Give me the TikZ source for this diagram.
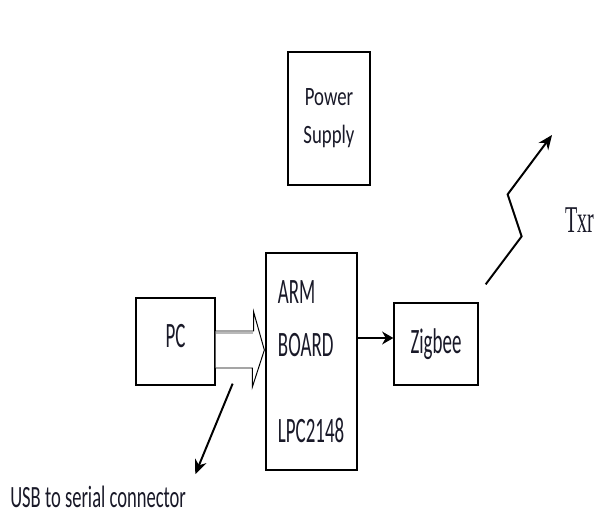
\documentclass[tikz,border=0pt]{standalone}
\usepackage{fontspec}
\usepackage{graphicx}
\usepackage{tikz}
\usetikzlibrary{arrows.meta,calc}
\setmainfont{Carlito}
\newfontfamily\txrfont{Liberation Serif}
\newcommand{\narrow}[2]{\scalebox{#1}[1]{#2}}
\definecolor{InkBlack}{RGB}{25,25,40}
\tikzset{
  blk/.style={draw=black, line width=0.9pt, fill=white, inner sep=0pt, align=center,
    text=InkBlack, font={\fontsize{25.4}{31}\selectfont}},
  psblk/.style={blk, font={\fontsize{18.8}{27}\selectfont}},
  fatarr/.style={draw=black, line width=0.7pt, fill=white, line join=miter},
  fatshade/.style={gray!55, line width=1.6pt},
  sigarr/.style={-{Stealth[length=0.36cm, width=0.3cm]}, line width=1.4pt, black},
  notelbl/.style={inner sep=0pt, text=InkBlack, font={\fontsize{22}{26}\selectfont}},
  txrlbl/.style={inner sep=0pt, text=InkBlack, font={\txrfont\fontsize{26.9}{30}\selectfont}},
}

\begin{document}
\begin{tikzpicture}[x=0.025cm, y=-0.025cm]
    \useasboundingbox (0,0) rectangle (598,513);
    \node[psblk, minimum width=2.05cm, minimum height=3.325cm] (power) at (329,118.5)
      {\narrow{0.71}{Power}\\\narrow{0.71}{Supply}};
    \node[blk, minimum width=1.975cm, minimum height=2.175cm, text depth=0.275cm] (PC) at (175.5,341.5)
      {\narrow{0.53}{PC}};
    \node[blk, align=left, text width=1.675cm, inner xsep=0.3cm, minimum height=5.425cm] (ARM) at (311.5,361.5)
      {\narrow{0.53}{ARM}\\[6.7pt]\narrow{0.53}{BOARD}\\[30pt]\narrow{0.53}{LPC2148}};
    \node[blk, minimum width=2.1cm, minimum height=2.05cm] (Zigbee) at (436,344) {\narrow{0.53}{Zigbee}};
    \coordinate (fattip) at ($(ARM.west)+(-1,-11.5)$);
    \draw[fatarr] ($(PC.east)+(0,-10.5)$) -- ++(38,0) -- ++(0,-19) -- (fattip) -- ++(-12,37) -- ++(0,-19)
      -- ($(PC.east)+(0,26.5)$);
    \draw[fatshade] ($(PC.east)+(0.5,-8.5)$) -- ++(37,0);
    \draw[sigarr, -{Stealth[length=0.28cm, width=0.32cm]}, line width=1.6pt]
      ($(ARM.east)+(0,-23.5)$) -- ($(Zigbee.west)+(0,-6)$);
    \coordinate (zbout) at ($(Zigbee.north east)+(7,-18)$);
    \coordinate (air) at (552,135);
    \draw[sigarr] (zbout) -- ++(36,-48) -- ++(-14,-42) -- (air);
    \node[txrlbl] (txr) at (580,220) {\narrow{0.53}{Txr}};
    \node[notelbl, anchor=base west] (usbnote) at (10,507) {\narrow{0.6}{USB to serial connector}};
    \coordinate (usbtap) at ($(PC.south east)+(17,-2)$);
    \draw[sigarr] (usbtap) -- ($(usbnote.north east)+(9,-11)$);
\end{tikzpicture}
\end{document}
